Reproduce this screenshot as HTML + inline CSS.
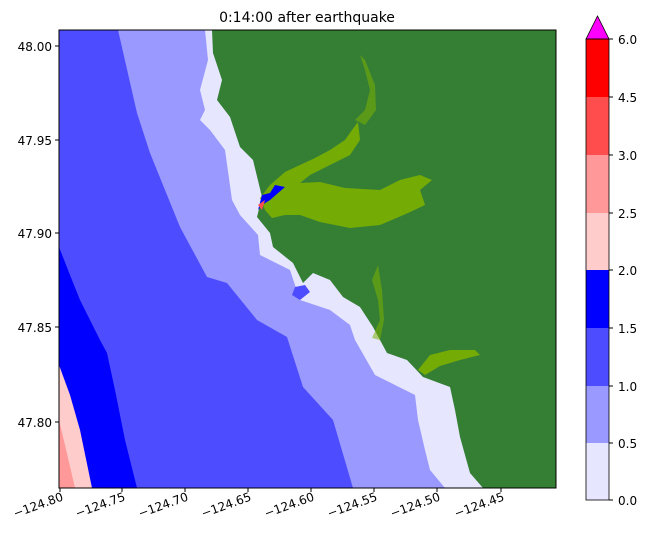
<!DOCTYPE html>
<html><head><style>
body{margin:0;background:#fff;}
svg text{font-family:"DejaVu Sans","Liberation Sans",sans-serif;}
</style></head><body>
<svg width="651" height="541" viewBox="0 0 651 541" xmlns="http://www.w3.org/2000/svg">
<rect width="651" height="541" fill="#fff"/>
<text x="307" y="22" font-size="14" text-anchor="middle" fill="#000">0:14:00 after earthquake</text>
<defs><clipPath id="c"><rect x="59" y="30" width="497" height="458"/></clipPath></defs>
<g clip-path="url(#c)">
<rect x="59" y="30" width="497" height="458" fill="#4d4dff"/>
<polygon points="59,247 70,275 80,300 90,320 100,340 107,353 115,390 125,440 137,488 59,488" fill="#0000ff"/>
<polygon points="59,365 70,395 80,430 92,488 59,488" fill="#ffcccc"/>
<polygon points="59,420 65,445 75,488 59,488" fill="#ff9999"/>
<polygon points="118,30 137,113 150,153 165,190 180,227 207,277 227,283 257,320 287,337 303,387 333,420 353,488 560,488 560,30" fill="#9999ff"/>
<polygon points="205,30 208,60 200,90 205,110 200,120 210,130 225,150 232,200 240,215 258,235 260,255 290,270 300,300 330,310 350,325 355,340 375,375 415,395 418,420 425,450 430,470 445,488 560,488 560,30" fill="#e6e6ff"/>
<polygon points="212,30 213,53 222,80 217,100 230,117 240,147 253,160 262,197 257,217 270,233 273,247 293,263 303,283 313,273 330,280 343,297 360,307 373,327 387,353 407,360 423,377 450,387 455,410 460,437 470,473 483,488 560,488 560,30" fill="#357f35"/>
<g fill="#7cb000" opacity="0.9">
<polygon points="260,198 270,185 285,172 300,165 315,158 330,150 345,140 352,130 358,122 360,140 350,155 330,165 310,175 300,183 320,182 345,188 380,190 400,180 420,175 432,180 420,190 425,205 408,213 380,225 350,228 320,222 300,215 285,215 272,218 265,210"/>
<polygon points="355,120 365,110 370,90 365,70 360,55 365,60 375,85 376,110 365,125" opacity="0.6"/>
<polygon points="372,338 380,320 378,300 372,280 378,265 382,290 384,320 380,340" opacity="0.6"/>
<polygon points="418,370 430,355 450,350 475,350 480,355 460,360 440,366 425,375"/>
</g>
<polygon points="262,195 270,193 275,185 285,187 270,200 262,205 258,210" fill="#0000ff"/>
<polygon points="258,205 265,200 262,210" fill="#ff5050"/>
<polygon points="295,287 305,285 310,292 300,300 292,295" fill="#4d4dff"/>
</g>
<rect x="59" y="30" width="497" height="458" fill="none" stroke="#000" stroke-width="1"/>
<g font-size="12" fill="#000" text-anchor="end">
<g stroke="#000"><line x1="55" y1="46" x2="59" y2="46"/><line x1="55" y1="140" x2="59" y2="140"/><line x1="55" y1="233" x2="59" y2="233"/><line x1="55" y1="327" x2="59" y2="327"/><line x1="55" y1="422" x2="59" y2="422"/></g>
<text x="52" y="51">48.00</text><text x="52" y="145">47.95</text><text x="52" y="238">47.90</text><text x="52" y="332">47.85</text><text x="52" y="427">47.80</text>
</g>
<g font-size="12" fill="#000" text-anchor="end">
<g stroke="#000"><line x1="60" y1="488" x2="60" y2="492"/><line x1="122" y1="488" x2="122" y2="492"/><line x1="185" y1="488" x2="185" y2="492"/><line x1="248" y1="488" x2="248" y2="492"/><line x1="311" y1="488" x2="311" y2="492"/><line x1="374" y1="488" x2="374" y2="492"/><line x1="437" y1="488" x2="437" y2="492"/><line x1="501" y1="488" x2="501" y2="492"/></g>
<text transform="translate(64,500) rotate(-20)">−124.80</text>
<text transform="translate(126,500) rotate(-20)">−124.75</text>
<text transform="translate(189,500) rotate(-20)">−124.70</text>
<text transform="translate(252,500) rotate(-20)">−124.65</text>
<text transform="translate(315,500) rotate(-20)">−124.60</text>
<text transform="translate(378,500) rotate(-20)">−124.55</text>
<text transform="translate(441,500) rotate(-20)">−124.50</text>
<text transform="translate(505,500) rotate(-20)">−124.45</text>
</g>
<rect x="586" y="39" width="23" height="58" fill="#ff0000"/>
<rect x="586" y="97" width="23" height="58" fill="#ff4d4d"/>
<rect x="586" y="155" width="23" height="58" fill="#ff9999"/>
<rect x="586" y="213" width="23" height="57" fill="#ffcccc"/>
<rect x="586" y="270" width="23" height="58" fill="#0000ff"/>
<rect x="586" y="328" width="23" height="58" fill="#4d4dff"/>
<rect x="586" y="386" width="23" height="57" fill="#9999ff"/>
<rect x="586" y="443" width="23" height="57" fill="#e6e6ff"/>
<polygon points="586,39 597.5,16 609,39" fill="#ff00ff" stroke="#000" stroke-width="0.8"/>
<rect x="586" y="39" width="23" height="461" fill="none" stroke="#000" stroke-width="0.8"/>
<g stroke="#000"><line x1="609" y1="39" x2="613" y2="39"/><line x1="609" y1="97" x2="613" y2="97"/><line x1="609" y1="155" x2="613" y2="155"/><line x1="609" y1="213" x2="613" y2="213"/><line x1="609" y1="270" x2="613" y2="270"/><line x1="609" y1="328" x2="613" y2="328"/><line x1="609" y1="386" x2="613" y2="386"/><line x1="609" y1="443" x2="613" y2="443"/><line x1="609" y1="500" x2="613" y2="500"/></g>
<g font-size="12" fill="#000">
<text x="618" y="44">6.0</text><text x="618" y="102">4.5</text><text x="618" y="160">3.0</text><text x="618" y="218">2.5</text><text x="618" y="275">2.0</text><text x="618" y="333">1.5</text><text x="618" y="391">1.0</text><text x="618" y="448">0.5</text><text x="618" y="505">0.0</text>
</g>
</svg>
</body></html>
